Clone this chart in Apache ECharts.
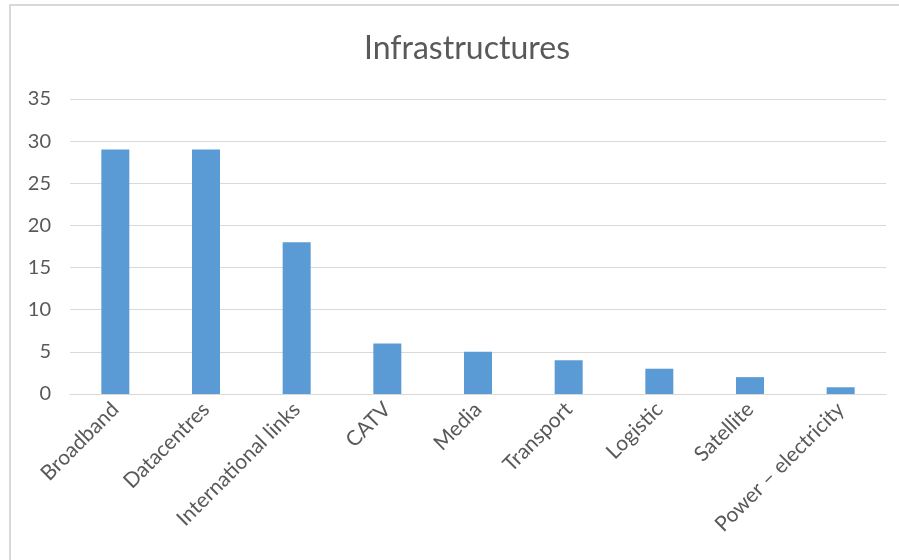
<!DOCTYPE html>
<html>
<head>
<meta charset="utf-8">
<script src="https://cdn.jsdelivr.net/npm/echarts@6/dist/echarts.min.js"></script>
<style>
  html, body { margin: 0; padding: 0; background: #fff; }
  .content { width: 899px; height: 560px; }
</style>
</head>
<body>
<div class="content"></div>
<script>
// values
let categories = ['Broadband', 'Datacentres', 'International links', 'CATV', 'Media',
    'Transport', 'Logistic', 'Satellite', 'Power \u2013 electricity'];
let values = [29, 29, 18, 6, 5, 4, 3, 2, 0.8];
let yTicks = [0, 5, 10, 15, 20, 25, 30, 35];

window.addEventListener("load", function () {
    let box = document.querySelector(".content");
    let chart = echarts.init(box);
    let font = 'Lato, "Open Sans", sans-serif';
    let option = {
        backgroundColor: '#ffffff',
        animation: false,
        title: {
            text: 'Infrastructures',
            left: 462,
            textAlign: 'center',
            top: 28,
            textStyle: {
                fontFamily: font,
                fontSize: 32,
                fontWeight: 'normal',
                color: '#595959'
            }
        },
        graphic: [{
            type: 'rect',
            shape: { x: 10, y: 5, width: 920, height: 600 },
            style: { fill: 'none', stroke: '#d9d9d9', lineWidth: 2 },
            silent: true
        }],
        grid: { left: 70, right: 13, top: 99, bottom: 166 },
        xAxis: {
            type: 'category',
            data: categories,
            axisTick: { show: false },
            axisLine: { lineStyle: { color: '#d9d9d9', width: 1 } },
            axisLabel: {
                rotate: 45,
                interval: 0,
                margin: 12,
                fontFamily: font,
                fontSize: 21,
                color: '#595959'
            }
        },
        yAxis: {
            type: 'value',
            min: yTicks[0],
            max: yTicks[yTicks.length - 1],
            interval: 5,
            axisLine: { show: false },
            axisTick: { show: false },
            axisLabel: {
                margin: 19,
                fontFamily: font,
                fontSize: 20,
                color: '#595959'
            },
            splitLine: { lineStyle: { color: '#d9d9d9', width: 1 } }
        },
        series: [{
            type: 'bar',
            data: values,
            barWidth: 28,
            itemStyle: { color: '#5b9bd5' }
        }]
    };
    chart.setOption(option);
});
</script>
</body>
</html>
